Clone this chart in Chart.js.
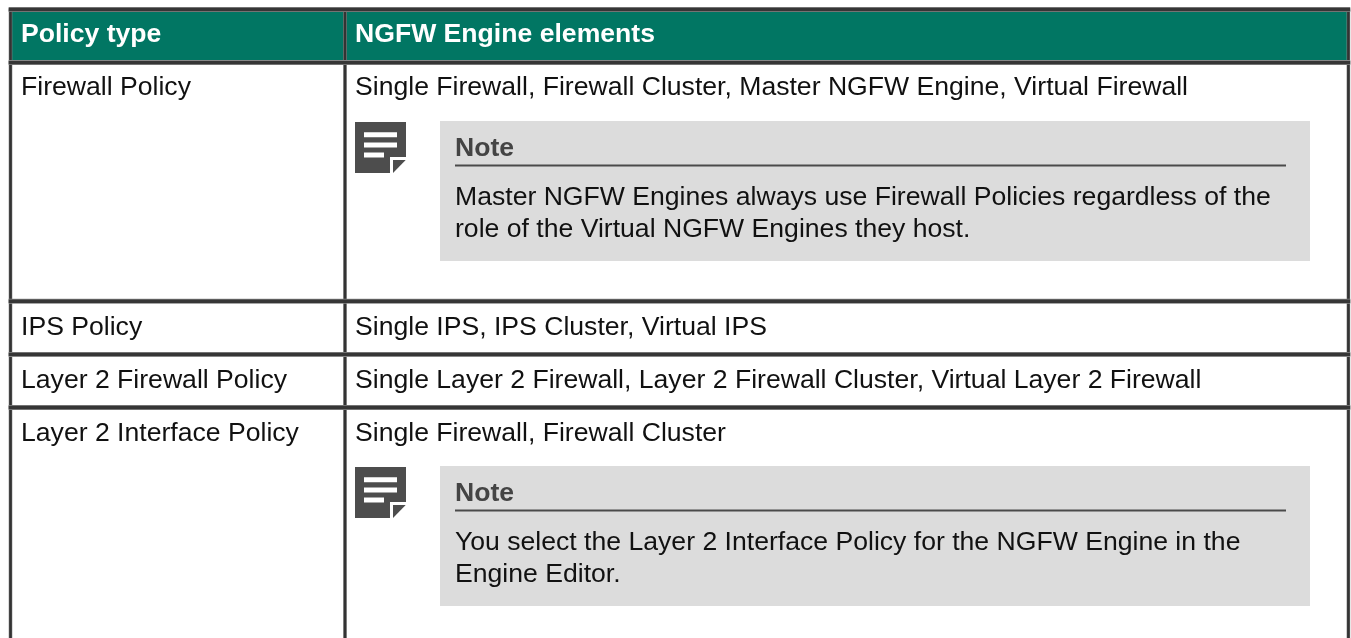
<!DOCTYPE html>
<html>
<head>
<meta charset="utf-8">
<style>
html, body { margin: 0; padding: 0; background: #fff; }
#wrap { position: relative; width: 1351px; height: 638px; }
</style>
<script src="https://cdn.jsdelivr.net/npm/chart.js@4/dist/chart.umd.min.js"></script>
</head>
<body>
<div id="wrap"><canvas id="mycanvas"></canvas></div>
<script>
var headers = ['Policy type', 'NGFW Engine elements'];
var policyTypes = ['Firewall Policy', 'IPS Policy', 'Layer 2 Firewall Policy', 'Layer 2 Interface Policy'];
var engineElements = [
	'Single Firewall, Firewall Cluster, Master NGFW Engine, Virtual Firewall',
	'Single IPS, IPS Cluster, Virtual IPS',
	'Single Layer 2 Firewall, Layer 2 Firewall Cluster, Virtual Layer 2 Firewall',
	'Single Firewall, Firewall Cluster'
];
var noteTitle = 'Note';
var noteLines1 = ['Master NGFW Engines always use Firewall Policies regardless of the', 'role of the Virtual NGFW Engines they host.'];
var noteLines2 = ['You select the Layer 2 Interface Policy for the NGFW Engine in the', 'Engine Editor.'];

// layout, in the units of the two hidden linear scales
var colLines = [10.5, 345, 1348.4];
var rowLines = [9.5, 62.6, 301.3, 354.4, 407.5];
var rowBaselines = [95, 335, 388, 441];
var noteTops = [121, 466];

function rect(x0, y0, x1, y1) {
	return [{x:x0,y:y0},{x:x1,y:y0},{x:x1,y:y1},{x:x0,y:y1},{x:x0,y:y0}];
}
function shape(pts, color) {
	return { data: pts, showLine: true, fill: 'shape', backgroundColor: color, borderWidth: 0, pointRadius: 0, tension: 0 };
}
function stroke(pts, color, w) {
	return { data: pts, showLine: true, fill: false, borderColor: color, borderWidth: w, pointRadius: 0, tension: 0 };
}

var datasets = [];
datasets.push(shape(rect(colLines[0], rowLines[0], colLines[2], rowLines[1]), '#017663'));
noteTops.forEach(function(t) {
	datasets.push(shape(rect(440, t, 1310, t + 140), '#dcdcdc'));
	datasets.push(stroke([{x:455,y:t+44.5},{x:1286,y:t+44.5}], '#4a4a4a', 2));
	// note icon
	datasets.push(shape([{x:355,y:t+1},{x:406,y:t+1},{x:406,y:t+36},{x:390,y:t+36},{x:390,y:t+52},{x:355,y:t+52},{x:355,y:t+1}], '#4d4d4d'));
	datasets.push(shape([{x:393,y:t+39},{x:405.7,y:t+39},{x:393,y:t+52},{x:393,y:t+39}], '#4d4d4d'));
	datasets.push(stroke([{x:364,y:t+13.7},{x:397,y:t+13.7}], '#ffffff', 5));
	datasets.push(stroke([{x:364,y:t+24},{x:397,y:t+24}], '#ffffff', 5));
	datasets.push(stroke([{x:364,y:t+34},{x:384,y:t+34}], '#ffffff', 5));
});
colLines.forEach(function(x) {
	datasets.push(stroke([{x:x,y:rowLines[0]},{x:x,y:638}], '#888888', 3.6));
	datasets.push(stroke([{x:x,y:rowLines[0]},{x:x,y:638}], '#333333', 2.6));
});
rowLines.forEach(function(y) {
	datasets.push(stroke([{x:colLines[0]-1.8,y:y},{x:colLines[2]+1.8,y:y}], '#888888', 5));
	datasets.push(stroke([{x:colLines[0]-1.8,y:y},{x:colLines[2]+1.8,y:y}], '#363636', 3.4));
});
// Chart.js paints dataset 0 last, so flip to keep the push order above
datasets.reverse();

var tableText = {
	id: 'tableText',
	afterDatasetsDraw: function(chart) {
		var ctx = chart.ctx, sx = chart.scales.x, sy = chart.scales.y;
		function put(s, x, y, font, color) {
			ctx.font = font;
			ctx.fillStyle = color;
			ctx.fillText(s, sx.getPixelForValue(x), sy.getPixelForValue(y));
		}
		var regular = '26.6px "Liberation Sans"', bold = 'bold 26.6px "Liberation Sans"';
		ctx.save();
		ctx.textBaseline = 'alphabetic';
		put(headers[0], 21, 42, bold, '#ffffff');
		put(headers[1], 355, 42, bold, '#ffffff');
		policyTypes.forEach(function(p, i) {
			put(p, 21, rowBaselines[i], regular, '#111111');
			put(engineElements[i], 355, rowBaselines[i], regular, '#111111');
		});
		[noteLines1, noteLines2].forEach(function(lines, n) {
			var t = noteTops[n];
			put(noteTitle, 455, t + 35, bold, '#444444');
			put(lines[0], 455, t + 84, regular, '#111111');
			put(lines[1], 455, t + 115.7, regular, '#111111');
		});
		ctx.restore();
	}
};

new Chart(document.getElementById('mycanvas'), {
	type: 'scatter',
	data: { datasets: datasets },
	plugins: [tableText],
	options: {
		responsive: true,
		maintainAspectRatio: false,
		animation: false,
		events: [],
		layout: { padding: 0 },
		plugins: { legend: { display: false }, tooltip: { enabled: false } },
		scales: {
			x: { type: 'linear', display: false, min: 0, max: 1351 },
			y: { type: 'linear', display: false, min: 0, max: 638, reverse: true }
		}
	}
});
</script>
</body>
</html>
